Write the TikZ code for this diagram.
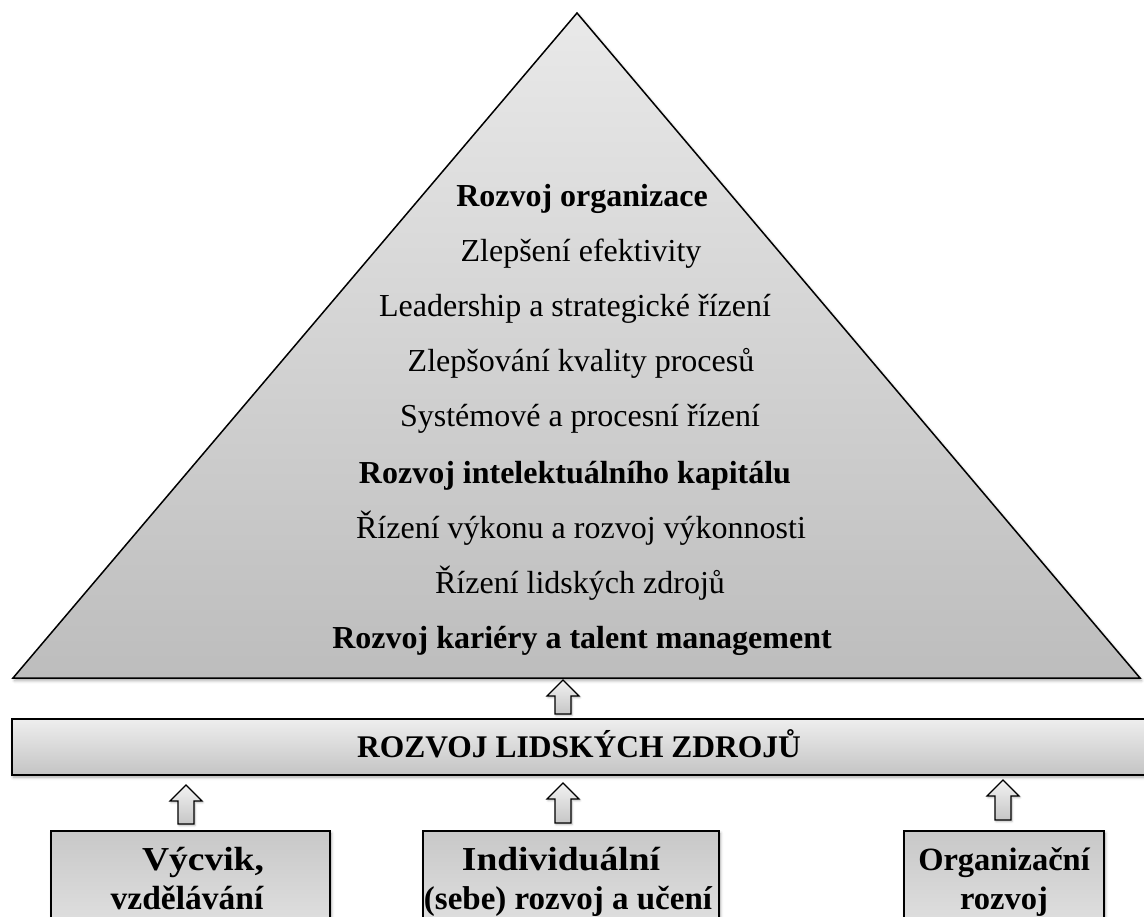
\documentclass[tikz,border=0pt]{standalone}
\usepackage{fontspec}
\setmainfont{Liberation Serif}
\usetikzlibrary{shadows.blur}

\definecolor{pyrtop}{HTML}{E9E9E9}
\definecolor{pyrbot}{HTML}{BDBDBD}
\definecolor{bartop}{HTML}{EEEEEE}
\definecolor{barbot}{HTML}{C4C4C4}
\definecolor{boxtop}{HTML}{C8C8C8}
\definecolor{boxbot}{HTML}{E8E8E8}
\definecolor{arrtop}{HTML}{F2F2F2}
\definecolor{arrbot}{HTML}{C6C6C6}

\tikzset{
  x=1pt, y=-1pt,
  softshadow/.style={blur shadow={shadow xshift=1.5pt, shadow yshift=-2.5pt,
      shadow opacity=35, shadow blur radius=3pt}},
  pyramid/.style={draw=black, line width=1.5pt, line join=miter,
      top color=pyrtop, bottom color=pyrbot, softshadow},
  barbox/.style={draw=black, line width=1.5pt, rectangle, inner sep=0pt,
      top color=bartop, bottom color=barbot, softshadow},
  srcbox/.style={draw=black, line width=1.5pt, rectangle, inner sep=0pt,
      top color=boxtop, bottom color=boxbot, softshadow},
  plain/.style={font=\fontsize{32}{38}\selectfont, anchor=base, inner sep=0pt},
  strong/.style={plain, font=\fontsize{32}{38}\selectfont\bfseries},
  bartext/.style={font=\fontsize{31.5}{38}\selectfont\bfseries, anchor=base, inner sep=0pt},
  boxtext/.style={font=\fontsize{33.5}{40}\selectfont\bfseries, anchor=base, inner sep=0pt},
  widetext/.style={boxtext, xscale=1.12, transform shape},
  arrowbody/.style={draw=black, line width=1.1pt, line join=miter,
      top color=arrtop, bottom color=arrbot,
      blur shadow={shadow xshift=1pt, shadow yshift=-1.5pt, shadow opacity=30, shadow blur radius=2pt}},
  pics/uparrow/.style={code={
      \path[arrowbody] (0,0) -- (16,16) -- (8,16) -- (8,#1) -- (-8,#1)
        -- (-8,16) -- (-16,16) -- cycle;
  }},
}

\begin{document}
\begin{tikzpicture}
\useasboundingbox (0,0) rectangle (1144,917);
\clip (0,0) rectangle (1144,917);

% pyramid
\coordinate (apex) at (577,13);
\coordinate (baseL) at (13,678);
\coordinate (baseR) at (1140,678);
\path[pyramid] (apex) -- (baseR) -- (baseL) -- cycle;

% pyramid contents
\node[strong] (t1) at (582,207) {Rozvoj organizace};
\node[plain]  (t2) at (581,262) {Zlepšení efektivity};
\node[plain]  (t3) at (575,317) {Leadership a strategické řízení};
\node[plain]  (t4) at (581,372) {Zlepšování kvality procesů};
\node[plain]  (t5) at (580,427) {Systémové a procesní řízení};
\node[strong] (t6) at (575,483) {Rozvoj intelektuálního kapitálu};
\node[plain]  (t7) at (581,538) {Řízení výkonu a rozvoj výkonnosti};
\node[plain]  (t8) at (580,593) {Řízení lidských zdrojů};
\node[strong] (t9) at (582,648) {Rozvoj kariéry a talent management};

% central bar
\node[barbox, anchor=north west, minimum width=1160pt, minimum height=56pt] (bar) at (11,718) {};
\node[bartext] (bartitle) at (579,757) {ROZVOJ LIDSKÝCH ZDROJŮ};

% source boxes
\node[srcbox, anchor=north west, minimum width=279pt, minimum height=130pt] (box1) at (50,830) {};
\node[srcbox, anchor=north west, minimum width=296pt, minimum height=130pt] (box2) at (422,830) {};
\node[srcbox, anchor=north west, minimum width=200pt, minimum height=130pt] (box3) at (903,830) {};

\node[widetext] (b1a) at (203,870) {Výcvik,};
\node[boxtext] (b1b) at (187,909) {vzdělávání};
\node[widetext] (b2a) at (561,870) {Individuální};
\node[boxtext, font=\fontsize{33}{40}\selectfont\bfseries] (b2b) at (568,909) {(sebe) rozvoj a učení};
\node[boxtext, font=\fontsize{32.5}{40}\selectfont\bfseries] (b3a) at (1004,870) {Organizační};
\node[boxtext, font=\fontsize{32.5}{40}\selectfont\bfseries] (b3b) at (1004,909) {rozvoj};

% upward block arrows
\coordinate (a0) at (563,680);
\coordinate (a1) at (186,785);
\coordinate (a2) at (563,783);
\coordinate (a3) at (1003,780);
\pic at (a0) {uparrow=34};
\pic at (a1) {uparrow=39};
\pic at (a2) {uparrow=40};
\pic at (a3) {uparrow=40};
\end{tikzpicture}
\end{document}
